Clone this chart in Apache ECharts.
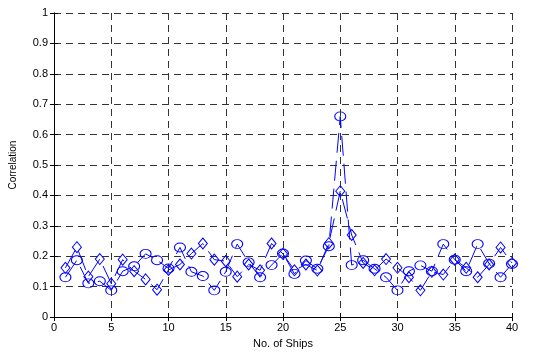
<!DOCTYPE html>
<html>
<head>
<meta charset="utf-8">
<script src="https://cdn.jsdelivr.net/npm/echarts@6/dist/echarts.min.js"></script>
<style>
  html, body { margin: 0; padding: 0; background: #fff; }
  #chart { width: 534px; height: 354px; }
</style>
</head>
<body>
<div id="chart"></div>
<script>
// ship numbers 1..40
const ships = [1,2,3,4,5,6,7,8,9,10,11,12,13,14,15,16,17,18,19,20,
               21,22,23,24,25,26,27,28,29,30,31,32,33,34,35,36,37,38,39,40];
// circle markers
const circleVals = [0.131,0.187,0.111,0.118,0.088,0.151,0.167,0.208,0.187,0.160,
                    0.229,0.149,0.135,0.088,0.149,0.240,0.180,0.131,0.171,0.209,
                    0.142,0.186,0.159,0.233,0.660,0.171,0.187,0.159,0.131,0.088,
                    0.151,0.170,0.151,0.240,0.189,0.151,0.240,0.176,0.131,0.175];
// diamond markers
const diamondVals = [0.162,0.230,0.133,0.191,0.110,0.189,0.151,0.124,0.090,0.155,
                     0.173,0.209,0.242,0.189,0.184,0.133,0.173,0.154,0.242,0.208,
                     0.154,0.173,0.153,0.243,0.414,0.270,0.178,0.154,0.191,0.162,
                     0.131,0.088,0.149,0.140,0.189,0.162,0.131,0.173,0.229,0.178];
const xTicks = [0,5,10,15,20,25,30,35,40];
const yTicks = [0,0.1,0.2,0.3,0.4,0.5,0.6,0.7,0.8,0.9,1];

const blue = '#0000ff';
const font = 'Liberation Sans, Arial, sans-serif';

const chart = echarts.init(document.getElementById('chart'), null, { renderer: 'canvas' });

function pairs(vals) {
  return ships.map((s, i) => [s, vals[i]]);
}

const gridLine = { show: true, lineStyle: { color: '#333', type: [7, 5], width: 1 } };

const option = {
  animation: false,
  grid: { left: 54, right: 22, top: 13, bottom: 35 },
  xAxis: [{
    type: 'value', min: 0, max: 40, interval: 5,
    name: 'No. of Ships', nameLocation: 'middle', nameGap: 19,
    nameTextStyle: { color: '#000', fontSize: 11, fontFamily: font },
    axisLine: { show: true, onZero: false, lineStyle: { color: '#000', width: 1 } },
    axisTick: { show: true, inside: true, length: 4, lineStyle: { color: '#000' } },
    axisLabel: { color: '#000', fontSize: 11, fontFamily: font, margin: 5,
      formatter: v => xTicks.includes(v) ? String(v) : '' },
    splitLine: gridLine
  }, {
    type: 'value', min: 0, max: 40, interval: 5, position: 'top',
    axisLine: { show: true, lineStyle: { color: '#000', width: 1 } },
    axisTick: { show: true, inside: true, length: 4, lineStyle: { color: '#000' } },
    axisLabel: { show: false }, splitLine: { show: false }
  }],
  yAxis: [{
    type: 'value', min: 0, max: 1, interval: 0.1,
    name: 'Correlation', nameLocation: 'middle', nameGap: 36, nameRotate: 90,
    nameTextStyle: { color: '#000', fontSize: 10, fontFamily: font },
    axisLine: { show: true, onZero: false, lineStyle: { color: '#000', width: 1 } },
    axisTick: { show: true, inside: true, length: 4, lineStyle: { color: '#000' } },
    axisLabel: { color: '#000', fontSize: 11, fontFamily: font, margin: 6,
      formatter: v => {
        const t = yTicks.find(y => Math.abs(y - v) < 1e-9);
        return t === undefined ? '' : String(t);
      } },
    splitLine: gridLine
  }, {
    type: 'value', min: 0, max: 1, interval: 0.1, position: 'right',
    axisLine: { show: true, lineStyle: { color: '#000', width: 1 } },
    axisTick: { show: true, inside: true, length: 4, lineStyle: { color: '#000' } },
    axisLabel: { show: false }, splitLine: { show: false }
  }],
  series: [{
    name: 'circle',
    type: 'line',
    data: pairs(circleVals),
    symbol: 'circle',
    symbolSize: [11, 9],
    showAllSymbol: true,
    lineStyle: { color: blue, width: 1, type: [20, 8] },
    itemStyle: { color: 'transparent', borderColor: blue, borderWidth: 1 }
  }, {
    name: 'diamond',
    type: 'line',
    data: pairs(diamondVals),
    symbol: 'diamond',
    symbolSize: [9, 11],
    showAllSymbol: true,
    lineStyle: { color: blue, width: 1, type: [20, 8] },
    itemStyle: { color: 'transparent', borderColor: blue, borderWidth: 1 }
  }]
};

chart.setOption(option);
</script>
</body>
</html>
